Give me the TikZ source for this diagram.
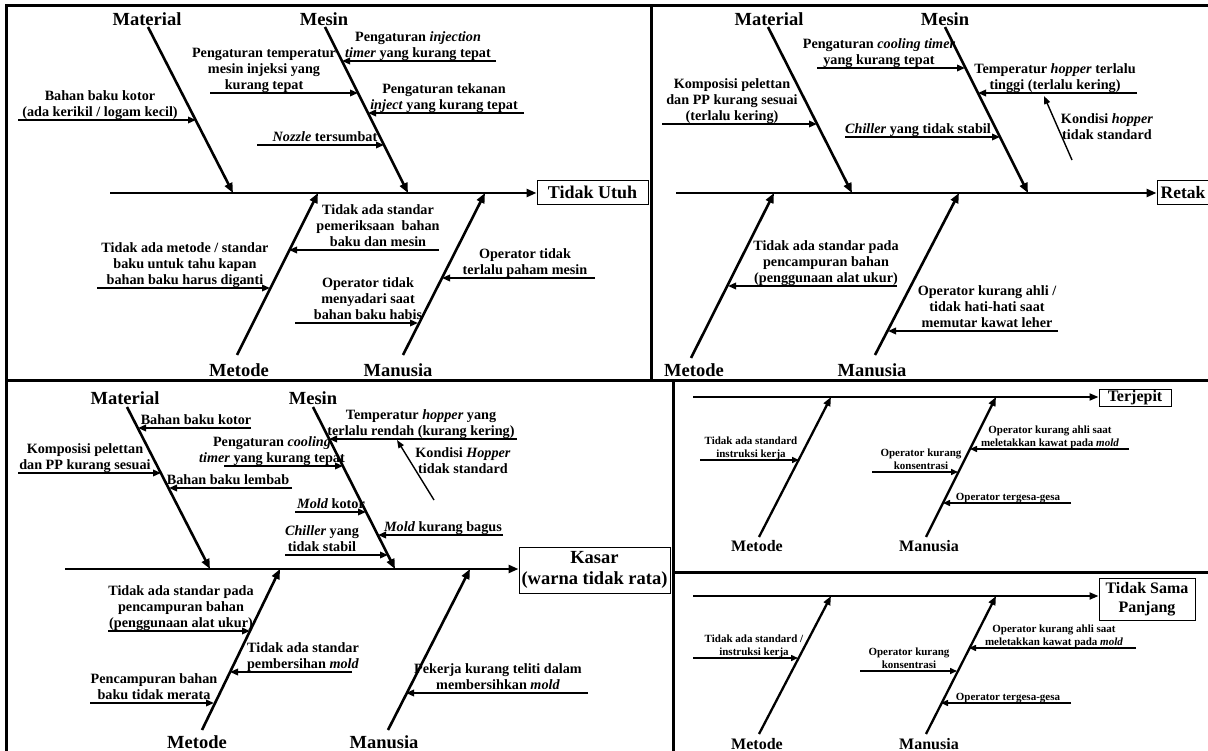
\documentclass[tikz,border=0pt]{standalone}
\usepackage{fontspec}
\setmainfont{Liberation Serif}
\usetikzlibrary{arrows.meta}
\newcommand\fsz[2]{\fontsize{#1}{#2}\selectfont\bfseries}
\newcommand\link[4]{\coordinate (#1-s) at (#2); \coordinate (#1-e) at (#3); \draw[#4] (#1-s) -- (#1-e);}
\begin{document}
\begin{tikzpicture}[x=1pt,y=-1pt,
  frame/.style={line width=3pt},
  bone/.style={line width=2.6pt,-{Triangle[length=10pt,width=8pt]}},
  sbone/.style={line width=2.3pt,-{Triangle[length=9pt,width=7pt]}},
  spine/.style={line width=2.6pt,-{Triangle[length=10pt,width=8pt]}},
  sspine/.style={line width=2pt,-{Triangle[length=9pt,width=7pt]}},
  cause/.style={line width=1.8pt,-{Triangle[length=8pt,width=6.5pt]}},
  scause/.style={line width=1.5pt,-{Triangle[length=7pt,width=6pt]}},
  thin/.style={line width=1.4pt,-{Triangle[length=8pt,width=6pt]}},
  lbl/.style={font=\fsz{14.2}{16},align=center,anchor=south,inner sep=0.5pt,text depth=2.5pt},
  slbl/.style={font=\fsz{11}{13},align=center,anchor=south,inner sep=0.5pt,text depth=2pt},
  free/.style={font=\fsz{14.2}{16},align=center,inner sep=0pt},
  head/.style={font=\fsz{18.5}{20},inner sep=0pt},
  shead/.style={font=\fsz{16}{18},inner sep=0pt},
  effect/.style={draw,line width=1pt,inner sep=1pt,align=center},
]
\useasboundingbox (0,0) rectangle (1208,751);
\fill[white] (0,0) rectangle (1208,751);

% ---------------- frames
\draw[frame] (6,760) -- (6,6) -- (1215,6);
\draw[frame] (651,6) -- (651,381);
\draw[frame] (6,381) -- (1215,381);
\draw[frame] (673,381) -- (673,760);
\draw[frame] (673,572) -- (1215,572);

% ---------------- panel 1 : Tidak Utuh
\node[effect,font=\fsz{18}{20},minimum width=111pt,minimum height=24pt] (E1) at (592.5,192.5) {Tidak Utuh};
\coordinate (S1) at (110,193);
\draw[spine] (S1) -- (S1 -| E1.west);
\node[head] (Mat1) at (147,19) {Material};
\node[head] (Mes1) at (324,19) {Mesin};
\node[head] (Met1) at (239,370) {Metode};
\node[head] (Man1) at (398,370) {Manusia};
\link{b11}{148,27}{233,193}{bone}
\link{b12}{325,27}{408,193}{bone}
\link{b13}{237,355}{318,193}{bone}
\link{b14}{403,355}{485,193}{bone}
\link{c11}{496,61}{342,61}{cause}
\node[lbl] (t11) at (418,61) {Pengaturan \textit{injection}\\\textit{timer} yang kurang tepat};
\link{c12}{210,93}{358,93}{cause}
\node[lbl] (t12) at (264,93) {Pengaturan temperatur\\mesin injeksi yang\\kurang tepat};
\link{c13}{524,113}{368,113}{cause}
\node[lbl] (t13) at (444,113) {Pengaturan tekanan\\\textit{inject} yang kurang tepat};
\link{c14}{257,145}{384,145}{cause}
\node[lbl] (t14) at (325,145) {\textit{Nozzle} tersumbat};
\link{c15}{18,120}{196,120}{cause}
\node[lbl] (t15) at (100,120) {Bahan baku kotor\\(ada kerikil / logam kecil)};
\link{c16}{439,250}{289,250}{cause}
\node[lbl] (t16) at (378,250) {Tidak ada standar\\pemeriksaan~~bahan\\baku dan mesin};
\link{c17}{97,288}{270,288}{cause}
\node[lbl] (t17) at (185,288) {Tidak ada metode / standar\\baku untuk tahu kapan\\bahan baku harus diganti};
\link{c18}{595,278}{442,278}{cause}
\node[lbl] (t18) at (525,278) {Operator tidak\\terlalu paham mesin};
\link{c19}{295,323}{418,323}{cause}
\node[lbl] (t19) at (368,323) {Operator tidak\\menyadari saat\\bahan baku habis};

% ---------------- panel 2 : Retak
\node[effect,font=\fsz{17.5}{19},minimum width=58pt,minimum height=24pt] (E2) at (1186,193) {Retak\hspace{6pt}};
\coordinate (S2) at (676,193);
\draw[spine] (S2) -- (S2 -| E2.west);
\node[head] (Mat2) at (769,19) {Material};
\node[head] (Mes2) at (945,19) {Mesin};
\node[head] (Met2) at (694,370) {Metode};
\node[head] (Man2) at (872,370) {Manusia};
\link{b21}{768,27}{852,193}{bone}
\link{b22}{945,27}{1028,193}{bone}
\link{b23}{691,358}{774,193}{bone}
\link{b24}{875,355}{959,193}{bone}
\link{c21}{662,124}{817,124}{cause}
\node[lbl] (t21) at (732,124) {Komposisi pelettan\\dan PP kurang sesuai\\(terlalu kering)};
\link{c22}{817,68}{965,68}{cause}
\node[lbl] (t22) at (879,68) {Pengaturan \textit{cooling timer}\\yang kurang tepat};
\link{c23}{845,137}{1000,137}{cause}
\node[lbl] (t23) at (918,137) {\textit{Chiller} yang tidak stabil};
\link{c24}{1137,93}{978,93}{cause}
\node[lbl] (t24) at (1055,93) {Temperatur \textit{hopper} terlalu\\tinggi (terlalu kering)};
\link{c25}{1072,160}{1044,96}{thin}
\node[free] (t25) at (1107,127) {Kondisi \textit{hopper}\\tidak standard};
\link{c26}{897,286}{728,286}{cause}
\node[lbl] (t26) at (826,286) {Tidak ada standar pada\\pencampuran bahan\\(penggunaan alat ukur)};
\link{c27}{1058,331}{888,331}{cause}
\node[lbl] (t27) at (987,331) {Operator kurang ahli /\\tidak hati-hati saat\\memutar kawat leher};

% ---------------- panel 3 : Kasar
\node[effect,font=\fsz{18.5}{21},minimum width=151pt,minimum height=46pt] (E3) at (594.5,570) {Kasar\\(warna tidak rata)};
\coordinate (S3) at (65,569);
\draw[spine] (S3) -- (S3 -| E3.west);
\node[head] (Mat3) at (125,398) {Material};
\node[head] (Mes3) at (313,398) {Mesin};
\node[head] (Met3) at (197,742) {Metode};
\node[head] (Man3) at (384,742) {Manusia};
\link{b31}{127,407}{210,569}{bone}
\link{b32}{313,407}{395,569}{bone}
\link{b33}{202,730}{280,569}{bone}
\link{b34}{388,730}{470,569}{bone}
\link{c31}{251,428}{138,428}{cause}
\node[lbl] (t31) at (196,428) {Bahan baku kotor};
\link{c32}{18,473}{161,473}{cause}
\node[lbl] (t32) at (85,473) {Komposisi pelettan\\dan PP kurang sesuai};
\link{c33}{292,488}{169,488}{cause}
\node[lbl] (t33) at (228,488) {Bahan baku lembab};
\link{c34}{517,439}{329,439}{cause}
\node[lbl] (t34) at (421,439) {Temperatur \textit{hopper} yang\\terlalu rendah (kurang kering)};
\link{c35}{224,466}{343,466}{cause}
\node[lbl] (t35) at (272,466) {Pengaturan \textit{cooling}\hspace{12pt}\\\textit{timer} yang kurang tepat};
\link{c36}{295,512}{366,512}{cause}
\node[lbl] (t36) at (331,512) {\textit{Mold} kotor};
\link{c37}{503,535}{378,535}{cause}
\node[lbl] (t37) at (443,535) {\textit{Mold} kurang bagus};
\link{c38}{285,555}{388,555}{cause}
\node[lbl] (t38) at (322,555) {\textit{Chiller} yang\\tidak stabil};
\link{c39}{434,500}{397,440}{thin}
\node[free] (t39) at (463,461) {Kondisi \textit{Hopper}\\tidak standard};
\link{c3a}{108,631}{250,631}{cause}
\node[lbl] (t3a) at (181,631) {Tidak ada standar pada\\pencampuran bahan\\(penggunaan alat ukur)};
\link{c3b}{352,672}{230,672}{cause}
\node[lbl] (t3b) at (303,672) {Tidak ada standar\\pembersihan \textit{mold}};
\link{c3c}{90,703}{214,703}{cause}
\node[lbl] (t3c) at (154,703) {Pencampuran bahan\\baku tidak merata};
\link{c3d}{588,693}{406,693}{cause}
\node[lbl] (t3d) at (498,693) {Pekerja kurang teliti dalam\\membersihkan \textit{mold}};

% ---------------- panel 4 : Terjepit
\node[effect,font=\fsz{16}{18},minimum width=72pt,minimum height=17pt,inner sep=0.5pt] (E4) at (1135,397.5) {Terjepit};
\coordinate (S4) at (693,397);
\draw[sspine] (S4) -- (S4 -| E4.west);
\node[shead] (Met4) at (757,546) {Metode};
\node[shead] (Man4) at (929,546) {Manusia};
\link{b41}{759,537}{831,397}{sbone}
\link{b42}{926,537}{996,397}{sbone}
\link{c41}{700,460}{799,460}{scause}
\node[slbl] (t41) at (751,460) {Tidak ada standard\\instruksi kerja};
\link{c42}{1129,449}{970,449}{scause}
\node[slbl] (t42) at (1050,449) {Operator kurang ahli saat\\meletakkan kawat pada \textit{mold}};
\link{c43}{872,472}{958,472}{scause}
\node[slbl] (t43) at (921,472) {Operator kurang\\konsentrasi};
\link{c44}{1071,503}{943,503}{scause}
\node[slbl] (t44) at (1008,503) {Operator tergesa-gesa};

% ---------------- panel 5 : Tidak Sama Panjang
\node[effect,font=\fsz{16}{19},minimum width=96pt,minimum height=42pt] (E5) at (1147,599) {Tidak Sama\\Panjang};
\coordinate (S5) at (693,596);
\draw[sspine] (S5) -- (S5 -| E5.west);
\node[shead] (Met5) at (757,744) {Metode};
\node[shead] (Man5) at (929,744) {Manusia};
\link{b51}{759,734}{831,596}{sbone}
\link{b52}{926,734}{996,596}{sbone}
\link{c51}{693,658}{798,658}{scause}
\node[slbl] (t51) at (754,658) {Tidak ada standard /\\instruksi kerja};
\link{c52}{1136,648}{969,648}{scause}
\node[slbl] (t52) at (1054,648) {Operator kurang ahli saat\\meletakkan kawat pada \textit{mold}};
\link{c53}{860,671}{957,671}{scause}
\node[slbl] (t53) at (909,671) {Operator kurang\\konsentrasi};
\link{c54}{1071,703}{941,703}{scause}
\node[slbl] (t54) at (1008,703) {Operator tergesa-gesa};
\end{tikzpicture}
\end{document}
